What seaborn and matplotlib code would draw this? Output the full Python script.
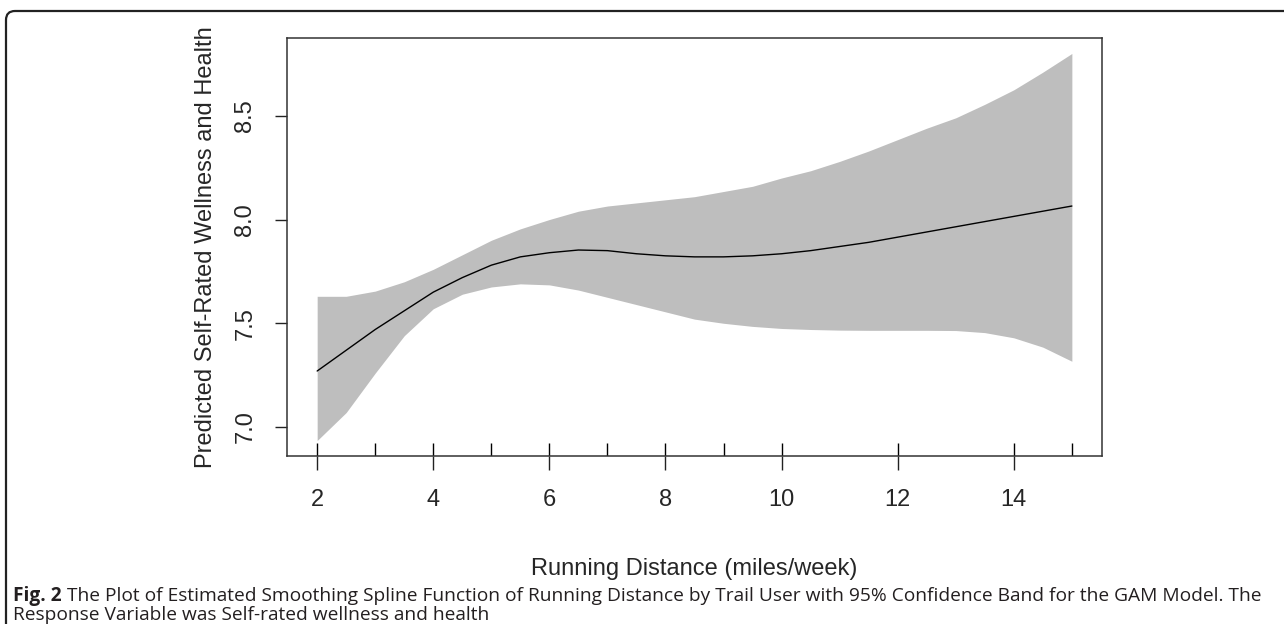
import numpy as np
import pandas as pd
import matplotlib
matplotlib.use("Agg")
import matplotlib.pyplot as plt
import seaborn as sns
from matplotlib.patches import FancyBboxPatch
from matplotlib.transforms import IdentityTransform

# values (GAM smooth with 95% band)
distance = [2, 2.5, 3, 3.5, 4, 4.5, 5, 5.5, 6, 6.5, 7, 7.5, 8, 8.5, 9,
            9.5, 10, 10.5, 11, 11.5, 12, 12.5, 13, 13.5, 14, 14.5, 15]
fit = [7.27, 7.37, 7.47, 7.56, 7.65, 7.72, 7.78, 7.82, 7.84, 7.853, 7.85,
       7.835, 7.825, 7.82, 7.82, 7.825, 7.835, 7.85, 7.87, 7.89, 7.915,
       7.94, 7.965, 7.99, 8.015, 8.04, 8.065]
upper = [7.63, 7.63, 7.655, 7.70, 7.76, 7.83, 7.90, 7.955, 8.00, 8.04, 8.065,
         8.08, 8.095, 8.11, 8.135, 8.16, 8.20, 8.235, 8.28, 8.33, 8.385,
         8.44, 8.49, 8.555, 8.625, 8.71, 8.80]
lower = [6.935, 7.07, 7.26, 7.44, 7.57, 7.64, 7.675, 7.69, 7.685, 7.66, 7.625,
         7.59, 7.555, 7.52, 7.50, 7.485, 7.475, 7.47, 7.467, 7.466, 7.466,
         7.466, 7.465, 7.455, 7.43, 7.385, 7.317]
rug_values = [2, 3, 4, 5, 6, 7, 8, 9, 10, 12, 14, 15]
x_ticks = [2, 4, 6, 8, 10, 12, 14]
y_ticks = [7.0, 7.5, 8.0, 8.5]

df = pd.DataFrame({"Distance": distance, "Fit": fit, "Upper": upper, "Lower": lower})

sns.set_style("white")
plt.rcParams["font.family"] = ["Liberation Sans", "DejaVu Sans"]

fig = plt.figure(figsize=(12.84, 6.24), dpi=100)
ax = fig.add_axes([0.2235, 0.2692, 0.6348, 0.6699])

# confidence band + fitted curve
ax.fill_between(df["Distance"], df["Lower"], df["Upper"], color="#bebebe", lw=0)
sns.lineplot(data=df, x="Distance", y="Fit", color="black", lw=1.0, ax=ax)
sns.rugplot(x=rug_values, height=0.031, color="black", lw=1.0, ax=ax)

# R-like 4% padding
xr = max(distance) - min(distance)
yr = max(upper) - min(lower)
ax.set_xlim(min(distance) - 0.04 * xr, max(distance) + 0.04 * xr)
ax.set_ylim(min(lower) - 0.04 * yr, max(upper) + 0.04 * yr)

ax.set_xticks(x_ticks)
ax.set_xticklabels([str(t) for t in x_ticks])
ax.set_yticks(y_ticks)
ax.set_yticklabels([f"{t:.1f}" for t in y_ticks], rotation=90, va="center")
ax.tick_params(axis="x", direction="out", length=10, width=1.0, pad=14,
               labelsize=17, color="#222222", bottom=True)
ax.tick_params(axis="y", direction="out", length=9, width=1.0, pad=13,
               labelsize=17, color="#222222", left=True)
for s in ax.spines.values():
    s.set_color("#333333")
    s.set_linewidth(1.1)

ax.set_xlabel("Running Distance (miles/week)", fontsize=17, va="top")
ax.set_ylabel("Predicted Self-Rated Wellness and Health", fontsize=17)
ax.xaxis.set_label_coords(0.5, -0.244)
ax.yaxis.set_label_coords(-0.0859, 0.5)

# figure frame (top + left edge with rounded corner)
frame = FancyBboxPatch((6, -60), 1400, 624 - 11 + 60,
                       boxstyle="round,pad=0,rounding_size=9",
                       transform=IdentityTransform(), fill=False,
                       ec="#222222", lw=1.6)
fig.add_artist(frame)

# caption
cap_font = ["Open Sans", "DejaVu Sans"]
cap_size = 13.8
t1 = fig.text(13 / 1284, 1 - 596 / 624, "Fig. 2", fontsize=cap_size, weight="bold",
              family=cap_font, va="center", color="#231f20")
fig.canvas.draw()
bb = t1.get_window_extent(fig.canvas.get_renderer())
fig.text((bb.x1 + 5) / 1284, 1 - 596 / 624,
         "The Plot of Estimated Smoothing Spline Function of Running Distance by Trail User "
         "with 95% Confidence Band for the GAM Model. The",
         fontsize=cap_size, family=cap_font, va="center", color="#231f20")
fig.text(13 / 1284, 1 - 615 / 624, "Response Variable was Self-rated wellness and health",
         fontsize=cap_size, family=cap_font, va="center", color="#231f20")

fig.savefig("out.png", dpi=100)
